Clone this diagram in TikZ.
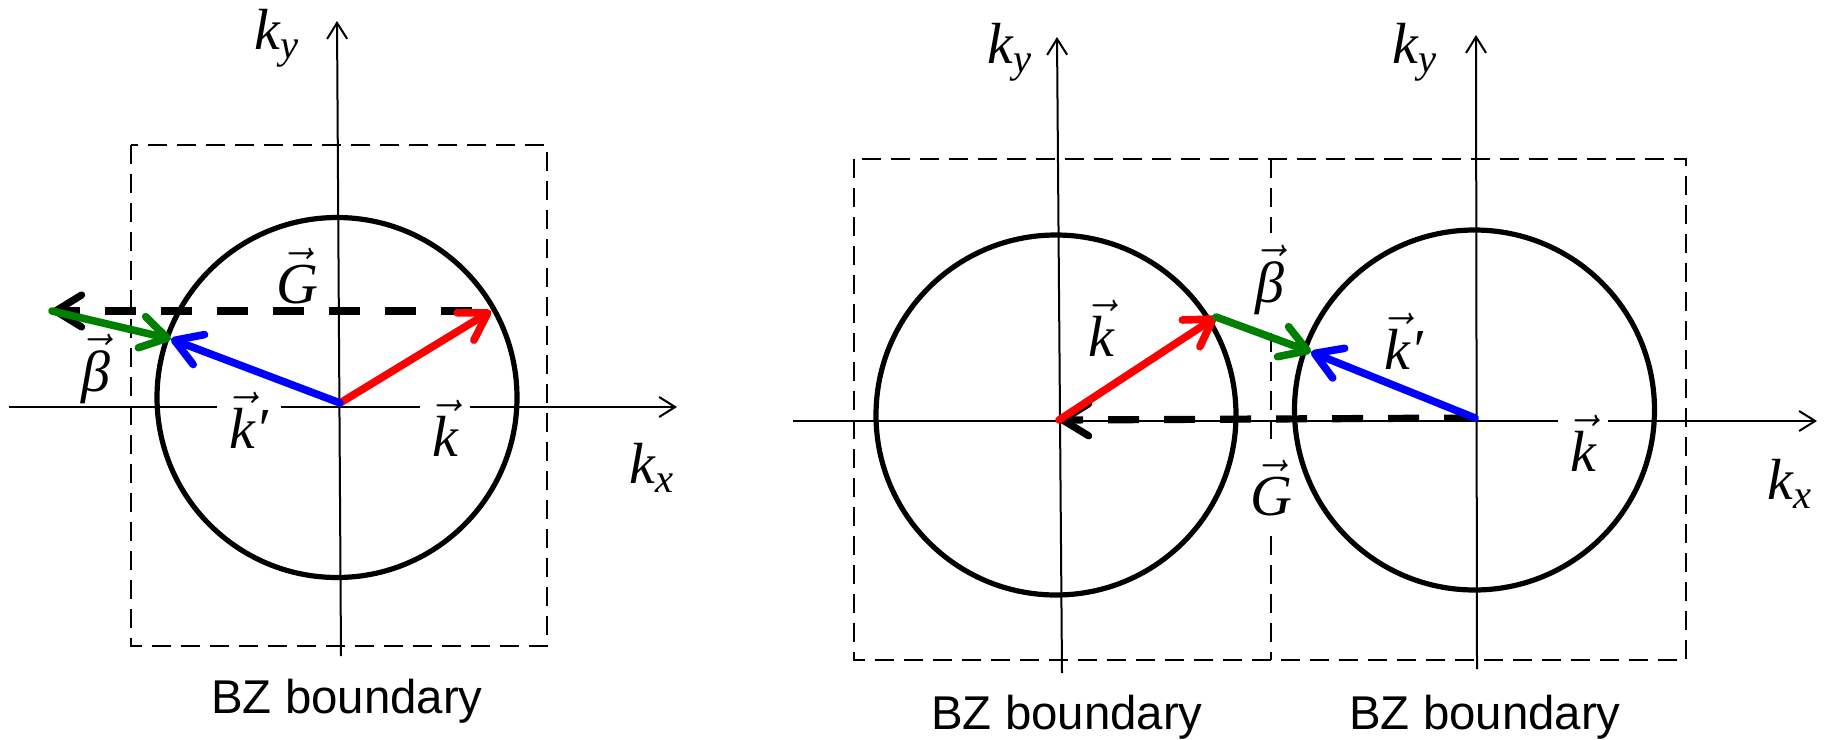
\documentclass[tikz,border=0pt]{standalone}
\usepackage{fix-cm}
\usepackage{amsmath}
\usepackage{fontspec}
\setmainfont{Liberation Serif}
\newfontfamily\bzfont{Liberation Sans}
\usetikzlibrary{arrows.meta}

\tikzset{
  axis/.style={line width=1pt, -{Straight Barb[length=8pt,width=10pt]}},
  bzbox/.style={line width=1pt, dash pattern=on 9.5pt off 5pt},
  fermi/.style={line width=2.6pt},
  wave/.style={line width=3.8pt, line cap=round, -{Straight Barb[length=13pt,width=16pt,round]}},
  recip/.style={line width=3.6pt, dash pattern=on 15.5pt off 12.5pt, -{Straight Barb[length=13pt,width=16pt,round]}},
  lbl/.style={font=\fontsize{29}{34}\selectfont, inner sep=1pt},
  onaxis/.style={lbl, fill=white, inner xsep=6pt},
  bz/.style={font=\bzfont\fontsize{23.7}{28}\selectfont, anchor=base},
}

\begin{document}
\begin{tikzpicture}[x=0.5pt, y=-0.5pt]
    \useasboundingbox (0,0) rectangle (1825,739);

    % ---------- Left: k' = k + G ----------
    % BZ box
    \draw[bzbox] (131,145) rectangle (547,646);
    \node[bz] (bz1) at (347,713) {BZ boundary};

    % Axes
    \draw[axis] (9,407) -- (677,407);
    \draw[axis] (341,656) -- (337,21);
    \node[lbl] (kx1) at (652,468) {\textit{k}$_{\textit{x}}$};
    \node[lbl] (ky1) at (277,38) {\textit{k}$_{\textit{y}}$};

    % Fermi circle
    \draw[fermi] (337,397.5) circle (180);

    % Vectors
    \coordinate (O1) at (340,403);
    \coordinate (K1) at (491,311);
    \coordinate (G1) at (52,311);
    \coordinate (P1) at (171,339);
    \draw[recip, dash phase=18.5pt] (K1) -- (G1);
    \draw[wave, red] (O1) -- (K1);
    \draw[wave, blue] (O1) -- (P1);
    \draw[wave, green!50!black] (G1) -- (P1);

    % Labels
    \node[lbl] (G1lbl) at (297,276) {$\vec{\textit{G}}$};
    \node[lbl] (b1lbl) at (96,369) {$\vec{\textit{β}}$};
    \node[onaxis] (k1lbl) at (445,428) {$\vec{\textit{k}}$};
    \node[onaxis] (p1lbl) at (249,420) {$\vec{\textit{k}}$\textit{′}};

    % ---------- Right: two zones ----------
    % BZ boxes
    \draw[bzbox] (854,159) rectangle (1686,660);
    \draw[bzbox] (1270.5,159) -- (1270.5,660);
    \node[bz] (bz2) at (1067,729) {BZ boundary};
    \node[bz] (bz3) at (1485,729) {BZ boundary};

    % Axes
    \draw[axis] (793,421) -- (1817,421);
    \draw[axis] (1062,673) -- (1057,37);
    \draw[axis] (1477,669) -- (1476,35);
    \node[lbl] (kx2) at (1790,484) {\textit{k}$_{\textit{x}}$};
    \node[lbl] (ky2) at (1010,52) {\textit{k}$_{\textit{y}}$};
    \node[lbl] (ky3) at (1415,52) {\textit{k}$_{\textit{y}}$};

    % Labels on the zone edge
    \node[onaxis, inner xsep=2pt, inner ysep=6pt] (b2lbl) at (1270,280) {$\vec{\textit{β}}$};
    \node[onaxis, inner xsep=2pt, inner ysep=6pt] (G2lbl) at (1271,488) {$\vec{\textit{G}}$};

    % Fermi circles
    \draw[fermi] (1056,415) circle (180);
    \draw[fermi] (1474.5,410) circle (180);

    % Vectors
    \coordinate (O2) at (1059,420);
    \coordinate (O3) at (1475,418);
    \coordinate (K2) at (1216,317);
    \coordinate (P2) at (1311,352);
    \draw[recip] (O3) -- (O2);
    \draw[wave, red] (O2) -- (K2);
    \draw[wave, blue] (O3) -- (P2);
    \draw[wave, green!50!black] (K2) -- (P2);

    % Labels
    \node[lbl] (k2lbl) at (1101,328) {$\vec{\textit{k}}$};
    \node[lbl] (p2lbl) at (1404,341) {$\vec{\textit{k}}$\textit{′}};
    \node[onaxis] (k3lbl) at (1583,443) {$\vec{\textit{k}}$};
\end{tikzpicture}
\end{document}
